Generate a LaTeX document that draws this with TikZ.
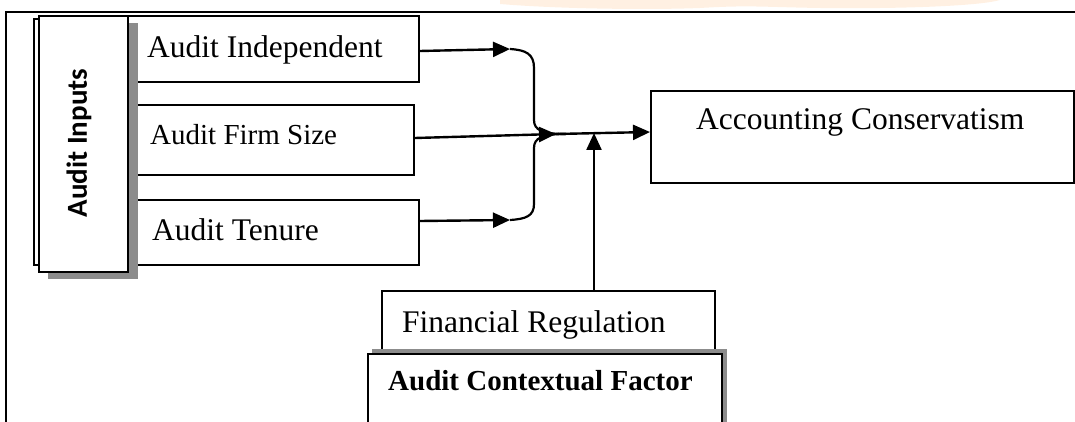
\documentclass[tikz,border=0pt]{standalone}
\usepackage{fontspec}
\setmainfont{Liberation Serif}
\newfontfamily\calibrifont{Carlito}
\usetikzlibrary{arrows.meta,calc}
\definecolor{shadowgrey}{HTML}{8C8C8C}
\definecolor{wmorange}{HTML}{FFF0E2}
\tikzset{
  box/.style={draw=black, line width=1.9pt, fill=white, inner sep=0pt, anchor=north west},
  txt/.style={inner sep=0pt, anchor=base west, font=\fontsize{31.5}{36}\selectfont},
  arr/.style={line width=2.4pt, -{Triangle[length=17pt,width=15pt]}},
  brace/.style={line width=2.2pt},
}
\begin{document}
\begin{tikzpicture}[x=1pt,y=-1pt]
\useasboundingbox (0,0) rectangle (1075,422);
% faint watermark band
\fill[wmorange] (500,0) -- (1000,0) .. controls (980,6) and (900,9) .. (820,8) .. controls (760,7) and (750,5) .. (700,8) .. controls (650,10) and (560,9) .. (500,4) -- cycle;
% outer frame
\draw[line width=2pt] (6,422) -- (6,12) -- (1075,12);

% input boxes
\node[box, minimum width=308pt, minimum height=66pt] (ai) at (110,15) {};
\node[box, minimum width=303pt, minimum height=70pt] (fs) at (110,104) {};
\node[box, minimum width=308pt, minimum height=65pt] (at) at (110,199) {};
\node[txt] (aitxt) at (147,58) {Audit Independent};
\node[txt, font=\fontsize{29}{34}\selectfont] (fstxt) at (150,145) {Audit Firm Size};
\node[txt] (attxt) at (152,240) {Audit Tenure};

% Audit Inputs stacked box with shadow
\node[box, minimum width=87pt, minimum height=246pt] (aiback) at (33,18) {};
\fill[shadowgrey] (48,23) rectangle (138,279);
\node[box, minimum width=89pt, minimum height=256pt] (inputs) at (38,15) {};
\node[rotate=90, inner sep=0pt, font=\calibrifont\bfseries\fontsize{29}{34}\selectfont] (inputstxt) at (79,143) {Audit Inputs};

% Accounting Conservatism
\node[box, minimum width=423pt, minimum height=92pt] (ac) at (650,90) {};
\node[txt] (actxt) at (696,130) {Accounting Conservatism};

% Financial Regulation + Audit Contextual Factor
\node[box, minimum width=333pt, minimum height=60pt] (fr) at (381,290) {};
\node[txt] (frtxt) at (402,332) {Financial Regulation};
\fill[shadowgrey] (372,349) rectangle (727,440);
\node[box, minimum width=354pt, minimum height=90pt] (acf) at (367,353) {};
\node[txt, font=\bfseries\fontsize{29}{34}\selectfont] (acftxt) at (388,390) {Audit Contextual Factor};

% connector coordinates
\coordinate (b1) at (510,49);
\coordinate (b2) at (510,220);
\coordinate (tip) at (556,134);
\coordinate (m) at (594,133);

% arrows into the brace
\draw[arr] (ai.east |- 0,51) -- (b1);
\draw[arr] (at.east |- 0,221) -- (b2);
\draw[arr] (fs.east |- 0,138) -- (tip);

% brace
\draw[brace] (b1) .. controls (526,50) and (534,54) .. (534,68) -- (534,120) .. controls (534,130) and (542,134) .. (566,134);
\draw[brace] (b2) .. controls (526,219) and (534,216) .. (534,204) -- (534,148) .. controls (534,138) and (542,134) .. (566,134);

% main line and regulation arrow
\draw[arr] (tip) -- (ac.west |- 0,132);
\draw[arr] (fr.north -| m) -- (m);
\end{tikzpicture}
\end{document}
